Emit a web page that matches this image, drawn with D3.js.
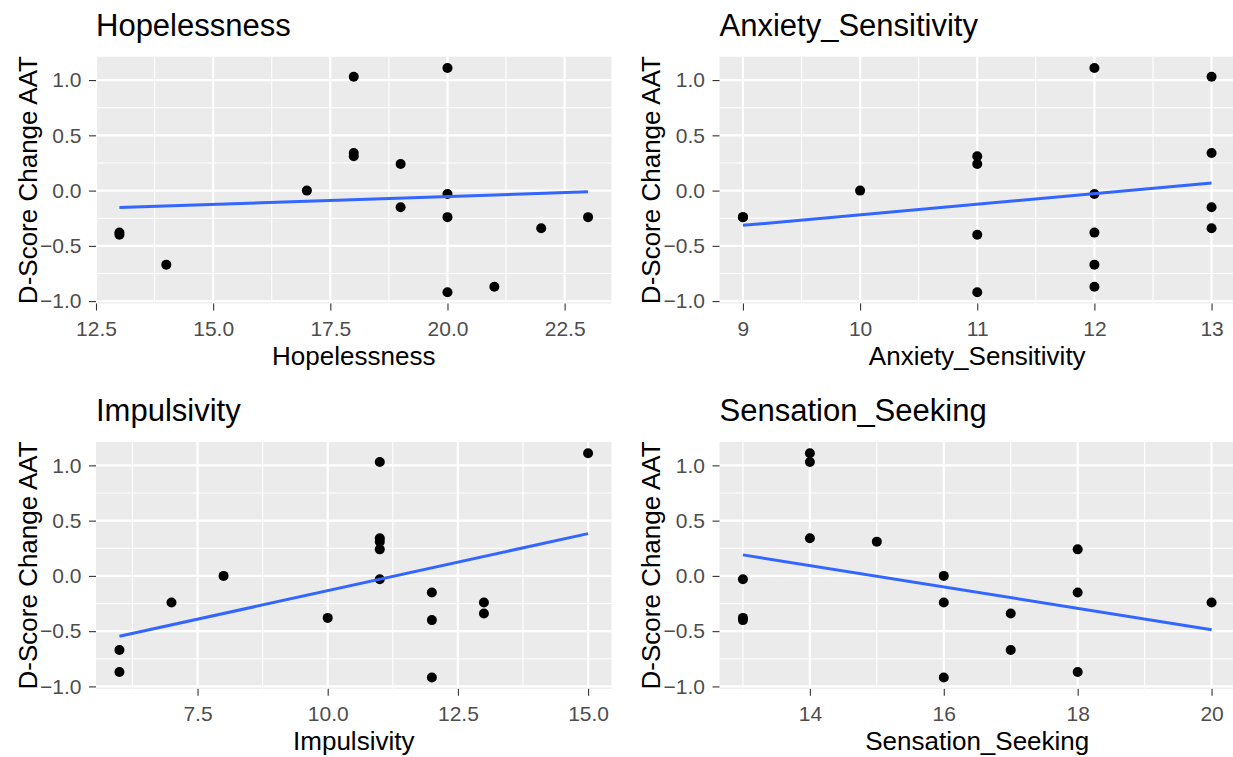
<!DOCTYPE html>
<html>
<head>
<meta charset="utf-8">
<title>D-Score Change AAT</title>
<script type="text/javascript" src="https://d3js.org/d3.v7.min.js"></script>
<style>
body { margin: 0; background: #ffffff; }
</style>
</head>
<body>
<script type="text/javascript">

// one entry per participant, same order in every array
var dScoreChange = [1.11, 1.03, 0.34, 0.31, 0.24, 0.00, -0.03, -0.15, -0.24, -0.24, -0.34, -0.38, -0.40, -0.67, -0.87, -0.92];
var hopelessness = [20, 18, 18, 18, 19, 17, 20, 19, 20, 23, 22, 13, 13, 14, 21, 20];
var anxietySensitivity = [12, 13, 13, 11, 11, 10, 12, 13, 9, 9, 13, 12, 11, 12, 12, 11];
var impulsivity = [15, 11, 11, 11, 11, 8, 11, 12, 7, 13, 13, 10, 12, 6, 6, 12];
var sensationSeeking = [14, 14, 14, 15, 18, 16, 13, 18, 16, 20, 17, 13, 13, 17, 18, 16];

// titles and tick labels
var panelTitles = ["Hopelessness", "Anxiety_Sensitivity", "Impulsivity", "Sensation_Seeking"];
var hopelessnessTicks = [12.5, 15, 17.5, 20, 22.5];
var anxietyTicks = [9, 10, 11, 12, 13];
var impulsivityTicks = [7.5, 10, 12.5, 15];
var sensationTicks = [14, 16, 18, 20];
var yTicks = [-1, -0.5, 0, 0.5, 1];
var yTitle = "D-Score Change AAT";

// svg size
var svgWidth = 1233;
var svgHeight = 757;

// size of one cell of the 2x2 grid and of the grey panel inside it
var cellW = 623.5;
var cellH = 385.3;
var panelLeft = 96;
var panelTop = 56.7;
var panelW = 515.5;
var panelH = 246.8;

var fontFamily = '"Liberation Sans", Arial, sans-serif';

var svg = d3.select("body")
	.append("svg")
	.attr("width", svgWidth)
	.attr("height", svgHeight)
	.style("display", "block");

svg.append("rect")
	.attr("width", svgWidth)
	.attr("height", svgHeight)
	.attr("fill", "#ffffff");

var panels = [
	{title: panelTitles[0], x: hopelessness, ticks: hopelessnessTicks, fmt: d3.format(".1f"), col: 0, row: 0},
	{title: panelTitles[1], x: anxietySensitivity, ticks: anxietyTicks, fmt: d3.format("d"), col: 1, row: 0},
	{title: panelTitles[2], x: impulsivity, ticks: impulsivityTicks, fmt: d3.format(".1f"), col: 0, row: 1},
	{title: panelTitles[3], x: sensationSeeking, ticks: sensationTicks, fmt: d3.format("d"), col: 1, row: 1}
];

// ggplot-like range with 5% padding on both sides
function expanded(values){
	var ext = d3.extent(values);
	var pad = (ext[1] - ext[0]) * 0.05;
	return [ext[0] - pad, ext[1] + pad];
}

// minor breaks halfway between the major ones, kept inside the domain
function minorBreaks(ticks, domain){
	var step = ticks[1] - ticks[0];
	var out = [];
	for (var i = -1; i < ticks.length; i++){
		var m = ticks[0] + step * (i + 0.5);
		if (m >= domain[0] && m <= domain[1]) out.push(m);
	}
	return out;
}

// simple least squares line
function fitLine(xs, ys){
	var mx = d3.mean(xs), my = d3.mean(ys);
	var sxy = 0, sxx = 0;
	for (var i = 0; i < xs.length; i++){
		sxy += (xs[i] - mx) * (ys[i] - my);
		sxx += (xs[i] - mx) * (xs[i] - mx);
	}
	var b = sxy / sxx;
	return {a: my - b * mx, b: b};
}

var yDomain = expanded(dScoreChange);

panels.forEach(function(p){
	var g = svg.append("g")
		.attr("transform", "translate(" + (p.col * cellW) + "," + (p.row * cellH) + ")");

	var xDomain = expanded(p.x);
	var x = d3.scaleLinear().domain(xDomain).range([panelLeft, panelLeft + panelW]);
	var y = d3.scaleLinear().domain(yDomain).range([panelTop + panelH, panelTop]);

	// grey background
	g.append("rect")
		.attr("x", panelLeft)
		.attr("y", panelTop)
		.attr("width", panelW)
		.attr("height", panelH)
		.attr("fill", "#ebebeb");

	// minor grid
	g.selectAll(".minx").data(minorBreaks(p.ticks, xDomain)).enter().append("line")
		.attr("x1", d => x(d)).attr("x2", d => x(d))
		.attr("y1", panelTop).attr("y2", panelTop + panelH)
		.attr("stroke", "#ffffff").attr("stroke-width", 1.1);
	g.selectAll(".miny").data(minorBreaks(yTicks, yDomain)).enter().append("line")
		.attr("x1", panelLeft).attr("x2", panelLeft + panelW)
		.attr("y1", d => y(d)).attr("y2", d => y(d))
		.attr("stroke", "#ffffff").attr("stroke-width", 1.1);

	// major grid
	g.selectAll(".majx").data(p.ticks).enter().append("line")
		.attr("x1", d => x(d)).attr("x2", d => x(d))
		.attr("y1", panelTop).attr("y2", panelTop + panelH)
		.attr("stroke", "#ffffff").attr("stroke-width", 2.2);
	g.selectAll(".majy").data(yTicks).enter().append("line")
		.attr("x1", panelLeft).attr("x2", panelLeft + panelW)
		.attr("y1", d => y(d)).attr("y2", d => y(d))
		.attr("stroke", "#ffffff").attr("stroke-width", 2.2);

	// points
	g.selectAll(".pt").data(p.x).enter().append("circle")
		.attr("cx", d => x(d))
		.attr("cy", (d, i) => y(dScoreChange[i]))
		.attr("r", 5)
		.attr("fill", "#000000");

	// regression line
	var fit = fitLine(p.x, dScoreChange);
	var xr = d3.extent(p.x);
	g.append("line")
		.attr("x1", x(xr[0])).attr("y1", y(fit.a + fit.b * xr[0]))
		.attr("x2", x(xr[1])).attr("y2", y(fit.a + fit.b * xr[1]))
		.attr("stroke", "#3366ff")
		.attr("stroke-width", 3);

	// axes
	var xAxis = g.append("g")
		.attr("transform", "translate(0," + (panelTop + panelH) + ")")
		.call(d3.axisBottom(x).tickValues(p.ticks).tickFormat(p.fmt).tickSize(7).tickPadding(10.5));
	var yAxis = g.append("g")
		.attr("transform", "translate(" + panelLeft + ",0)")
		.call(d3.axisLeft(y).tickValues(yTicks).tickFormat(d3.format(".1f")).tickSize(7).tickPadding(7.5));

	[xAxis, yAxis].forEach(function(a){
		a.select(".domain").remove();
		a.attr("font-family", fontFamily).attr("font-size", 21);
		a.selectAll(".tick line").attr("stroke", "#333333").attr("stroke-width", 1.1);
		a.selectAll(".tick text").attr("fill", "#4d4d4d");
	});

	// titles
	g.append("text")
		.attr("x", panelLeft)
		.attr("y", 36)
		.attr("font-family", fontFamily)
		.attr("font-size", 31)
		.attr("fill", "#000000")
		.text(p.title);

	g.append("text")
		.attr("x", panelLeft + panelW / 2)
		.attr("y", 365)
		.attr("text-anchor", "middle")
		.attr("font-family", fontFamily)
		.attr("font-size", 26)
		.attr("fill", "#000000")
		.text(p.title);

	g.append("text")
		.attr("transform", "translate(36.7," + (panelTop + panelH / 2) + ") rotate(-90)")
		.attr("text-anchor", "middle")
		.attr("font-family", fontFamily)
		.attr("font-size", 26)
		.attr("fill", "#000000")
		.text(yTitle);
});

</script>
</body>
</html>
